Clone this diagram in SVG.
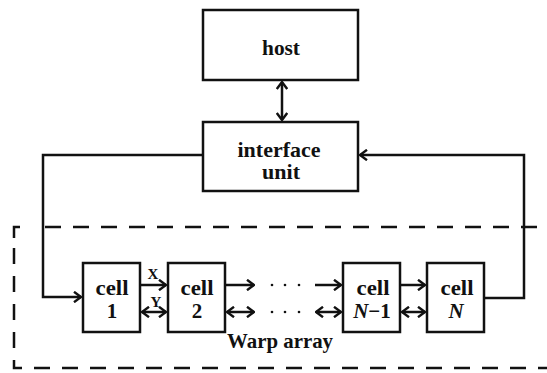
<svg xmlns="http://www.w3.org/2000/svg" width="547" height="373" viewBox="0 0 547 373">
<defs>
<marker id="ah" viewBox="0 0 10 12" refX="9" refY="6" markerWidth="10" markerHeight="12" markerUnits="userSpaceOnUse" orient="auto-start-reverse">
<path d="M2,0.8 L9,6 L2,11.2" fill="none" stroke="#111" stroke-width="2.4"/>
</marker>
</defs>
<style>
.box{fill:#fff;stroke:#111;stroke-width:2.5}
.ln{fill:none;stroke:#111;stroke-width:2.5}
.dash{fill:none;stroke:#111;stroke-width:2.5;stroke-dasharray:16 12}
.t{font-family:"Liberation Serif",serif;font-weight:bold;font-size:21px;fill:#111;text-anchor:middle}
.s{font-family:"Liberation Serif",serif;font-weight:bold;font-size:15px;fill:#111;text-anchor:middle}
.i{font-style:italic}
.dot{fill:#111}
</style>
<rect width="547" height="373" fill="#fff"/>
<g id="warp-array">
<path class="dash" d="M45,227 H547"/>
<path class="ln" d="M14,238 V227 H20"/>
<path class="dash" d="M14,248 V368 H547"/>
<text class="t" x="280" y="348" textLength="106" lengthAdjust="spacingAndGlyphs">Warp array</text>
</g>
<g id="connectors">
<path class="ln" d="M282,82 V120" marker-start="url(#ah)" marker-end="url(#ah)"/>
<path class="ln" d="M203,155 H43 V297 H81" marker-end="url(#ah)"/>
<path class="ln" d="M485,298 H524 V155 H360" marker-end="url(#ah)"/>
<path class="ln" d="M141,285 H166" marker-end="url(#ah)"/>
<path class="ln" d="M142,312 H166" marker-start="url(#ah)" marker-end="url(#ah)"/>
<path class="ln" d="M226,285 H254" marker-end="url(#ah)"/>
<path class="ln" d="M227,312 H254" marker-start="url(#ah)" marker-end="url(#ah)"/>
<path class="ln" d="M315,285 H341" marker-end="url(#ah)"/>
<path class="ln" d="M316,312 H341" marker-start="url(#ah)" marker-end="url(#ah)"/>
<path class="ln" d="M401,285 H425" marker-end="url(#ah)"/>
<path class="ln" d="M402,312 H425" marker-start="url(#ah)" marker-end="url(#ah)"/>
<text class="s" x="153" y="279">X</text>
<text class="s" x="156" y="307">Y</text>
<circle class="dot" cx="272" cy="285" r="1.3"/>
<circle class="dot" cx="285" cy="285" r="1.3"/>
<circle class="dot" cx="299" cy="285" r="1.3"/>
<circle class="dot" cx="272" cy="312" r="1.3"/>
<circle class="dot" cx="285" cy="312" r="1.3"/>
<circle class="dot" cx="299" cy="312" r="1.3"/>
</g>
<g id="host">
<rect class="box" x="203" y="10" width="155" height="70"/>
<text class="t" x="281" y="55" textLength="38" lengthAdjust="spacingAndGlyphs">host</text>
</g>
<g id="interface">
<rect class="box" x="203" y="122" width="155" height="69"/>
<text class="t" x="279" y="157" textLength="83" lengthAdjust="spacingAndGlyphs">interface</text>
<text class="t" x="281" y="179" textLength="38" lengthAdjust="spacingAndGlyphs">unit</text>
</g>
<g id="cell1">
<rect class="box" x="83" y="263" width="57" height="69"/>
<text class="t" x="112" y="295" textLength="33" lengthAdjust="spacingAndGlyphs">cell</text>
<text class="t" x="112" y="318">1</text>
</g>
<g id="cell2">
<rect class="box" x="168" y="263" width="57" height="69"/>
<text class="t" x="197" y="295" textLength="33" lengthAdjust="spacingAndGlyphs">cell</text>
<text class="t" x="197" y="318">2</text>
</g>
<g id="cellN-1">
<rect class="box" x="343" y="263" width="57" height="69"/>
<text class="t" x="373" y="295" textLength="33" lengthAdjust="spacingAndGlyphs">cell</text>
<text class="t" x="372" y="318"><tspan class="i">N</tspan>−1</text>
</g>
<g id="cellN">
<rect class="box" x="427" y="263" width="57" height="69"/>
<text class="t" x="457" y="295" textLength="33" lengthAdjust="spacingAndGlyphs">cell</text>
<text class="t i" x="456" y="318">N</text>
</g>
</svg>
